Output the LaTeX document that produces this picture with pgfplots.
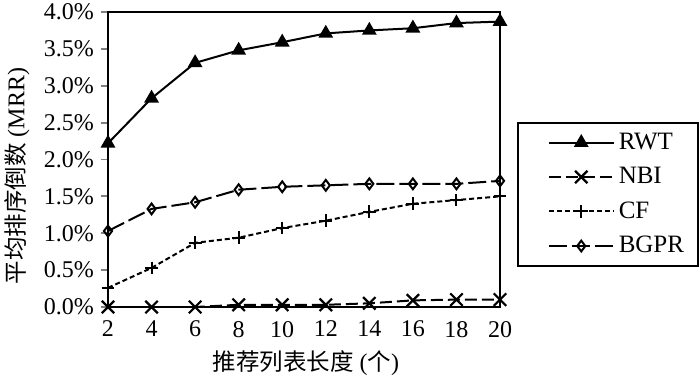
\documentclass[border=0pt]{standalone}
\usepackage{pgfplots}
\pgfplotsset{compat=1.18}
\usepackage{fontspec}
\setmainfont{Liberation Serif}
\newfontfamily\cjk{Noto Sans CJK SC}
\begin{document}
\begin{tikzpicture}
\begin{axis}[
  name=ax,
  scale only axis,
  width=196pt, height=147.5pt,
  xmin=2, xmax=20, ymin=0, ymax=4,
  xtick={2,4,...,20},
  ytick={0,0.5,...,4},
  yticklabels={0.0\%,0.5\%,1.0\%,1.5\%,2.0\%,2.5\%,3.0\%,3.5\%,4.0\%},
  tick label style={font=\fontsize{12}{14}\selectfont},
  /pgf/number format/assume math mode=true,
  tick align=outside,
  major tick length=3.5pt,
  xtick style={draw=none},
  ytick pos=left,
  axis line style={line width=1pt},
  ytick style={line width=0.9pt},
  xlabel={{\cjk\fontsize{11.75}{14}\selectfont 推荐列表长度}~({\cjk\fontsize{11.75}{14}\selectfont 个})},
  ylabel={{\cjk\fontsize{11.75}{14}\selectfont 平均排序倒数}~(MRR)},
  xlabel style={font=\fontsize{12}{14}\selectfont, at={(rel axis cs:0.505,-0.19)}, anchor=center},
  ylabel style={font=\fontsize{12}{14}\selectfont, at={(rel axis cs:-0.232,0.444)}, anchor=center},
  legend style={at={(1.043,0.627)}, anchor=north west, draw=black, line width=0.9pt,
    font=\fontsize{12.5}{14}\selectfont, row sep=3.5pt, inner xsep=15pt, inner ysep=3pt},
  legend cell align=left,
  legend image code/.code={\draw[mark repeat=2,mark phase=2] plot coordinates {(0pt,0pt) (16.25pt,0pt) (32.5pt,0pt)};},
]
\addplot[black, line width=1pt, mark=triangle*, mark size=3.3pt, mark options={solid}]
  coordinates {(2,2.22) (4,2.83) (6,3.31) (8,3.48) (10,3.59) (12,3.71) (14,3.75) (16,3.78) (18,3.85) (20,3.87)};
\addlegendentry{RWT\hspace*{-10pt}}
\addplot[black, line width=1pt, dash pattern=on 6pt off 2.5pt, mark=x, mark size=4.4pt, mark options={solid,line width=1.1pt}]
  coordinates {(2,0) (4,0) (6,0) (8,0.03) (10,0.03) (12,0.03) (14,0.05) (16,0.09) (18,0.1) (20,0.1)};
\addlegendentry{NBI\hspace*{-10pt}}
\addplot[black, line width=1pt, dash pattern=on 2.5pt off 1.5pt, mark=+, mark size=3.2pt, mark options={solid,line width=1pt}]
  coordinates {(2,0.26) (4,0.53) (6,0.87) (8,0.94) (10,1.07) (12,1.17) (14,1.29) (16,1.40) (18,1.45) (20,1.50)};
\addlegendentry{CF\hspace*{-10pt}}
\addplot[black, line width=1pt, dash pattern=on 9pt off 2.5pt, mark=diamond, mark size=2.7pt, mark options={solid, fill=white, line width=1pt}]
  coordinates {(2,1.03) (4,1.33) (6,1.42) (8,1.59) (10,1.63) (12,1.65) (14,1.67) (16,1.67) (18,1.67) (20,1.71)};
\addlegendentry{BGPR\hspace*{-10pt}}
\end{axis}
\pgfresetboundingbox
\path (ax.south west) ++(-54pt,-34.5pt) rectangle ++(350pt,188pt);
\end{tikzpicture}
\end{document}
